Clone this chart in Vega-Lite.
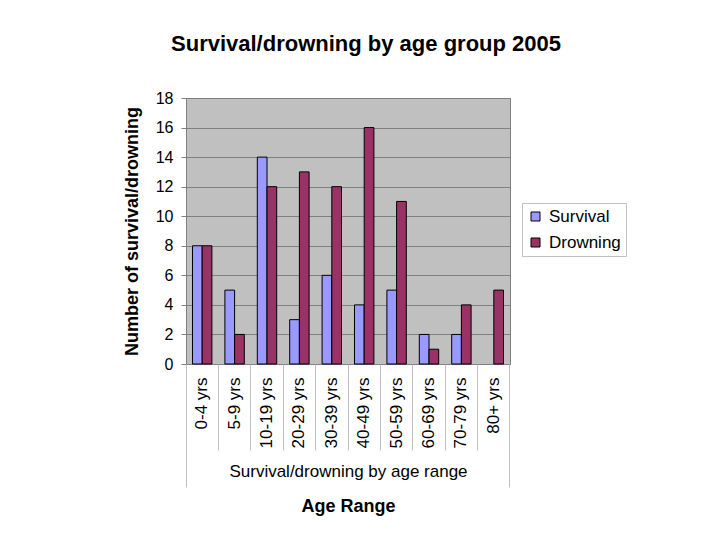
{
  "$schema": "https://vega.github.io/schema/vega-lite/v6.json",
  "width": 324,
  "height": 266,
  "autosize": {"type": "none"},
  "padding": {"left": 186, "top": 98, "right": 210, "bottom": 176},
  "background": "white",
  "title": {
    "text": "Survival/drowning by age group 2005",
    "font": "Liberation Sans",
    "fontSize": 22,
    "fontWeight": "bold",
    "color": "black",
    "anchor": "middle",
    "dx": 18,
    "offset": 34
  },
  "config": {
    "font": "Liberation Sans",
    "view": {"stroke": "#808080", "fill": "#C0C0C0"}
  },
  "data": {
    "values": [
      {"age": "0-4 yrs", "series": "Survival", "count": 8},
      {"age": "0-4 yrs", "series": "Drowning", "count": 8},
      {"age": "5-9 yrs", "series": "Survival", "count": 5},
      {"age": "5-9 yrs", "series": "Drowning", "count": 2},
      {"age": "10-19 yrs", "series": "Survival", "count": 14},
      {"age": "10-19 yrs", "series": "Drowning", "count": 12},
      {"age": "20-29 yrs", "series": "Survival", "count": 3},
      {"age": "20-29 yrs", "series": "Drowning", "count": 13},
      {"age": "30-39 yrs", "series": "Survival", "count": 6},
      {"age": "30-39 yrs", "series": "Drowning", "count": 12},
      {"age": "40-49 yrs", "series": "Survival", "count": 4},
      {"age": "40-49 yrs", "series": "Drowning", "count": 16},
      {"age": "50-59 yrs", "series": "Survival", "count": 5},
      {"age": "50-59 yrs", "series": "Drowning", "count": 11},
      {"age": "60-69 yrs", "series": "Survival", "count": 2},
      {"age": "60-69 yrs", "series": "Drowning", "count": 1},
      {"age": "70-79 yrs", "series": "Survival", "count": 2},
      {"age": "70-79 yrs", "series": "Drowning", "count": 4},
      {"age": "80+ yrs", "series": "Survival", "count": 0},
      {"age": "80+ yrs", "series": "Drowning", "count": 5}
    ]
  },
  "layer": [
    {
      "mark": {"type": "bar", "stroke": "black", "strokeWidth": 1},
      "encoding": {
        "x": {
          "field": "age", "type": "nominal", "sort": null,
          "scale": {"paddingInner": 0, "paddingOuter": 0},
          "axis": {
            "orient": "bottom",
            "title": "Survival/drowning by age range",
            "titleFontSize": 17, "titleFontWeight": "normal", "titleColor": "black",
            "titlePadding": 16,
            "labelAngle": 270, "labelAlign": "right", "labelBaseline": "middle",
            "labelFontSize": 17, "labelColor": "black", "labelPadding": 13,
            "ticks": false, "domain": true, "domainColor": "#808080", "grid": false
          }
        },
        "xOffset": {
          "field": "series", "type": "nominal", "sort": ["Survival", "Drowning"],
          "scale": {"paddingInner": 0, "paddingOuter": 0.67}
        },
        "y": {
          "field": "count", "type": "quantitative",
          "scale": {"domain": [0, 18]},
          "axis": {
            "title": "Number of survival/drowning",
            "titleFontSize": 18, "titleFontWeight": "bold", "titleColor": "black",
            "titlePadding": 14,
            "values": [0, 2, 4, 6, 8, 10, 12, 14, 16, 18],
            "labelFontSize": 16, "labelColor": "black", "labelPadding": 8,
            "tickSize": 5, "tickColor": "#808080",
            "domain": false, "grid": true, "gridColor": "#808080", "gridWidth": 1
          }
        },
        "color": {
          "field": "series", "type": "nominal", "sort": ["Survival", "Drowning"],
          "scale": {"domain": ["Survival", "Drowning"], "range": ["#9999FF", "#993366"]},
          "legend": {
            "title": null, "orient": "none", "legendX": 336, "legendY": 105,
            "symbolType": "square", "symbolSize": 81, "symbolStrokeColor": "black",
            "symbolStrokeWidth": 1, "symbolOpacity": 1,
            "labelFontSize": 17, "labelColor": "black",
            "rowPadding": 8, "padding": 5, "strokeColor": "#c0c0c0", "fillColor": "white",
            "labelOffset": 5
          }
        },
        "strokeOpacity": {
          "condition": {"test": "datum.count == 0", "value": 0},
          "value": 1
        }
      }
    },
    {
      "mark": {"type": "bar", "opacity": 0},
      "encoding": {
        "x": {
          "field": "age", "type": "nominal", "sort": null,
          "axis": {
            "orient": "bottom",
            "title": "Age Range",
            "titleFontSize": 18, "titleFontWeight": "bold", "titleColor": "black",
            "titlePadding": 47,
            "labels": false, "domain": false, "grid": false,
            "ticks": true, "tickSize": 86, "tickColor": "#c0c0c0", "bandPosition": 0
          }
        }
      }
    },
    {
      "mark": {"type": "bar", "opacity": 0},
      "encoding": {
        "x": {
          "field": "age", "type": "nominal", "sort": null,
          "axis": {
            "orient": "bottom",
            "title": null, "values": ["0-4 yrs"],
            "labels": false, "domain": false, "grid": false,
            "ticks": true, "tickSize": 123, "tickColor": "#c0c0c0", "bandPosition": 0
          }
        }
      }
    },
    {
      "mark": {"type": "bar", "opacity": 0},
      "encoding": {
        "x": {
          "field": "age", "type": "nominal", "sort": null,
          "axis": {
            "orient": "bottom",
            "title": null, "values": ["80+ yrs"],
            "labels": false, "domain": false, "grid": false,
            "ticks": true, "tickSize": 123, "tickColor": "#c0c0c0", "bandPosition": 1
          }
        }
      }
    }
  ],
  "resolve": {"axis": {"x": "independent"}}
}
